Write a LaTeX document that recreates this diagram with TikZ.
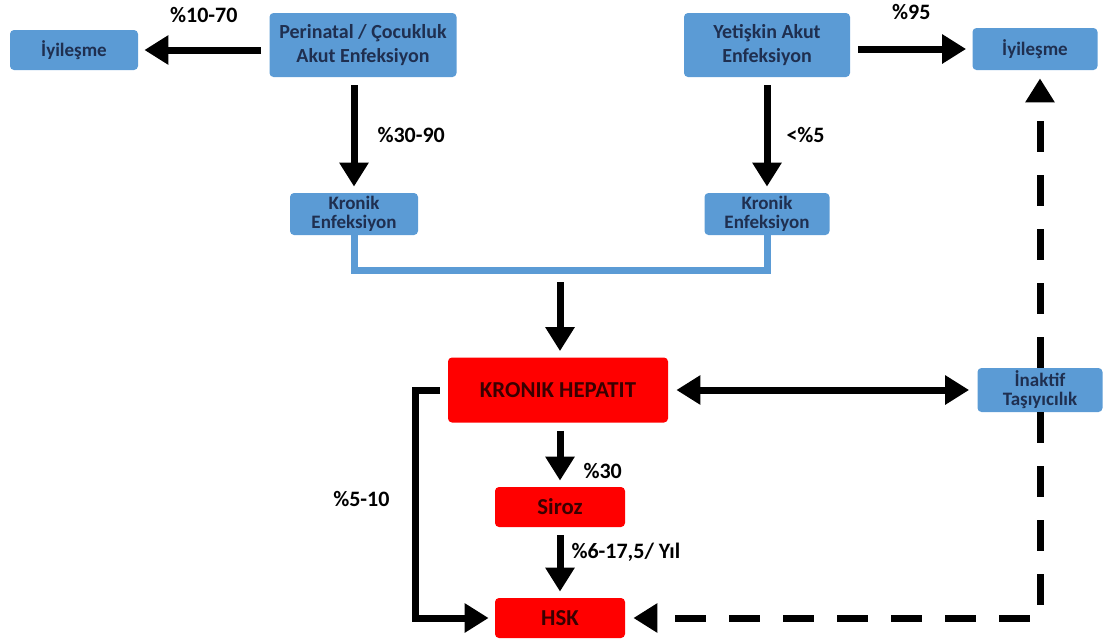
\documentclass[tikz,border=0pt]{standalone}
\usepackage{fontspec}
\setmainfont{Carlito}
\usetikzlibrary{arrows.meta, positioning, calc}

\definecolor{boxblue}{HTML}{5B9BD5}
\definecolor{boxtext}{HTML}{1F2F50}
\definecolor{redtext}{HTML}{3A0000}

\begin{document}
\begin{tikzpicture}[
    x=0.5pt, y=-0.5pt,
    every node/.style={font=\bfseries},
    bluebox/.style={fill=boxblue, rounded corners=2pt, align=center, text=boxtext, inner sep=1pt},
    redbox/.style={fill=red, rounded corners=2pt, align=center, text=redtext, inner sep=1pt},
    lbl/.style={font=\fontsize{11}{12}\selectfont\bfseries, inner sep=1pt},
    arrow/.style={-{Triangle[length=12pt,width=14pt]}, line width=3.5pt, shorten >=3pt, shorten <=4pt},
    twoway/.style={{Triangle[length=12pt,width=14pt]}-{Triangle[length=12pt,width=14pt]}, line width=3.5pt, shorten >=4pt, shorten <=4pt},
    dasharrow/.style={-{Triangle[length=12pt,width=14pt]}, line width=3.5pt, dash pattern=on 15.5pt off 11.5pt, shorten >=4pt},
    joinline/.style={draw=boxblue, line width=3.5pt}
]
\useasboundingbox (0,0) rectangle (1105,643);

% Akut enfeksiyonlar
\node[bluebox, minimum width=93.5pt, minimum height=32pt, font=\fontsize{10}{12}\selectfont\bfseries] (per) at (363,45) {Perinatal / Çocukluk\\Akut Enfeksiyon};
\node[bluebox, minimum width=83pt, minimum height=32pt, font=\fontsize{10}{12}\selectfont\bfseries] (yet) at (767,45) {Yetişkin Akut\\Enfeksiyon};

% İyileşme
\node[bluebox, minimum width=64pt, minimum height=20pt, font=\fontsize{9.5}{10}\selectfont\bfseries] (iyiL) at (74,50) {İyileşme};
\node[bluebox, minimum width=62.5pt, minimum height=21pt, font=\fontsize{9.5}{10}\selectfont\bfseries] (iyiR) at (1035,49) {İyileşme};

% Kronik enfeksiyon
\node[bluebox, minimum width=64pt, minimum height=21pt, font=\fontsize{9.5}{9.5}\selectfont\bfseries] (kenL) at (354,214) {Kronik\\Enfeksiyon};
\node[bluebox, minimum width=62.5pt, minimum height=21pt, font=\fontsize{9.5}{9.5}\selectfont\bfseries] (kenR) at (767,214) {Kronik\\Enfeksiyon};

% Kronik hepatit ve sonrası
\node[redbox, minimum width=110pt, minimum height=32.5pt, font=\fontsize{11.4}{12}\selectfont\bfseries] (hep) at (558,390) {KRONIK HEPATIT};
\node[bluebox, minimum width=62.5pt, minimum height=22pt, font=\fontsize{9.5}{9.5}\selectfont\bfseries] (ina) at (1040,390) {İnaktif\\Taşıyıcılık};
\node[redbox, minimum width=65pt, minimum height=20pt, font=\fontsize{11.4}{12}\selectfont\bfseries] (sir) at (560,507) {Siroz};
\node[redbox, minimum width=65pt, minimum height=20pt, font=\fontsize{11.4}{12}\selectfont\bfseries] (hsk) at (560,618) {HSK};

\coordinate (birles) at (560,270);
\coordinate (sol) at (415,390);

% Oklar
\draw[arrow] (iyiL -| per.west) -- node[lbl, above=11pt] {\%10-70} (iyiL.east);
\draw[arrow] (yet.east |- iyiR) -- node[lbl, above=12pt] {\%95} (iyiR.west);
\draw[arrow] (kenL |- per.south) -- node[lbl, right=9pt] {\%30-90} (kenL.north);
\draw[arrow] (kenR |- yet.south) -- node[lbl, right=7pt] {<\%5} (kenR.north);

% Birleşme
\draw[joinline] (kenL.south) -- (kenL |- birles) -- (kenR |- birles) -- (kenR.south);
\draw[arrow, shorten <=6pt] (birles) -- (birles |- hep.north);

\draw[twoway] (hep.east) -- (ina.west);
\draw[arrow] (hep.south -| sir) -- node[lbl, pos=0.75, right=9pt] {\%30} (sir.north);
\draw[arrow] (sir.south) -- node[lbl, pos=0.35, right=3pt] {\%6-17,5/ Yıl} (hsk.north);
\draw[arrow] (hep.west) -- (sol) -- node[lbl, pos=0.48, left=10pt] {\%5-10} (sol |- hsk) -- (hsk.west);

% İnaktif taşıyıcılık
\draw[dasharrow] (ina.north) -- (ina.north |- iyiR.south);
\draw[dasharrow] (ina.south) |- (hsk.east);

\end{tikzpicture}
\end{document}
